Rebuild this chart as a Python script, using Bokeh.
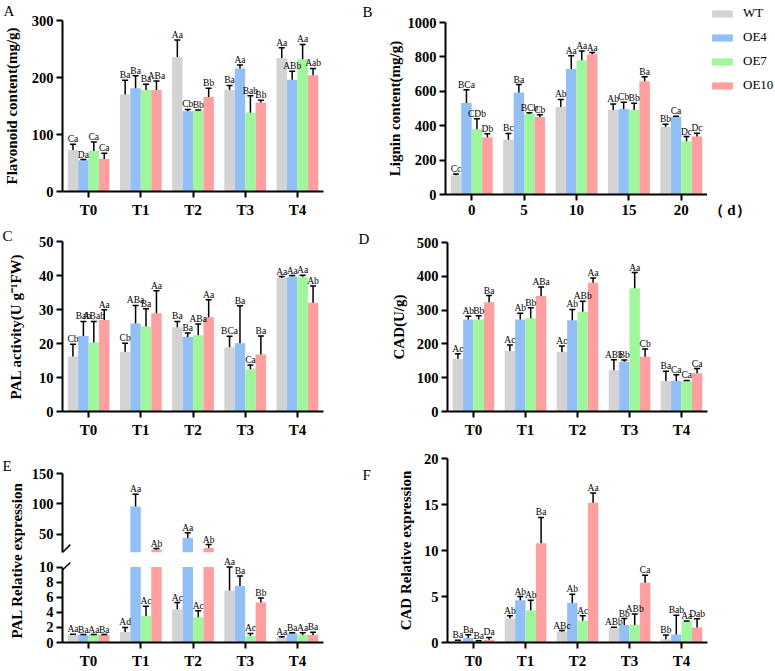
from math import pi
from bokeh.plotting import figure
from bokeh.models import (ColumnDataSource, FactorRange, Range1d, FixedTicker,
                          LabelSet, Label, Legend, LegendItem)
from bokeh.transform import dodge
from bokeh.layouts import row, column
from bokeh.core.properties import value
from bokeh.embed import file_html
from bokeh.resources import INLINE

# ---------------- data ----------------
series = ["WT", "OE4", "OE7", "OE10"]
colors = ["#d3d3d3", "#92c0f6", "#9ff79b", "#ff9f9f"]
stages = ["T0", "T1", "T2", "T3", "T4"]
days = ["0", "5", "10", "15", "20"]

# A  Flavonoid content (mg/g)   rows: WT, OE4, OE7, OE10
flav_mean = [[73, 170, 236, 178, 234], [55, 181, 141, 216, 196],
             [71, 178, 142, 138, 232], [57, 178, 166, 156, 204]]
flav_err = [[10, 25, 30, 8, 18], [1, 22, 3, 6, 15],
            [16, 10, 1, 30, 26], [10, 16, 15, 4, 12]]
flav_sig = [["Ca", "Ba", "Aa", "Ba", "Aa"], ["Da", "Ba", "Cb", "Aa", "ABb"],
            ["Ca", "Ba", "Bb", "Bab", "Aa"], ["Ca", "ABa", "Bb", "Bb", "Aab"]]

# B  Lignin content (mg/g)
lig_mean = [[112, 318, 509, 491, 393], [532, 593, 730, 497, 451],
            [380, 468, 780, 491, 310], [333, 451, 815, 659, 337]]
lig_err = [[7, 37, 44, 35, 15], [77, 46, 77, 40, 4],
           [61, 8, 54, 39, 27], [20, 13, 10, 25, 19]]
lig_sig = [["Cc", "Bc", "Ab", "Ab", "Bb"], ["BCa", "Ba", "Aa", "Cb", "Ca"],
           ["CDb", "BCb", "Aa", "Bb", "Dc"], ["Db", "Cb", "Aa", "Ba", "Dc"]]
day_unit = "（ d）"

# C  PAL activity
pal_mean = [[16.2, 17.6, 24.8, 18.9, 39.3], [22.2, 25.9, 21.9, 20.1, 39.7],
            [20.3, 25.0, 22.4, 12.4, 39.6], [26.9, 28.9, 27.7, 16.8, 32.0]]
pal_err = [[3.6, 2.5, 1.7, 3.2, 0.4], [4.3, 5.3, 1.2, 11.0, 0.3],
           [6.2, 5.2, 3.3, 1.3, 0.5], [3.0, 6.6, 5.2, 5.4, 4.9]]
pal_sig = [["Cb", "Cb", "Ba", "BCa", "Aa"], ["Bab", "ABa", "Ba", "Ba", "Aa"],
           ["ABab", "Ba", "ABa", "Ca", "Aa"], ["Aa", "Aa", "Aa", "Ba", "Ab"]]

# D  CAD activity (U/g)
cad_mean = [[156, 179, 176, 122, 90], [272, 272, 270, 147, 90],
            [272, 276, 295, 365, 90], [323, 342, 381, 162, 113]]
cad_err = [[15, 18, 18, 31, 29], [10, 19, 32, 5, 19],
           [11, 31, 31, 46, 2], [20, 26, 14, 23, 14]]
cad_sig = [["Ac", "Ac", "Ac", "ABb", "Ba"], ["Ab", "Ab", "Ab", "Bb", "Ca"],
           ["Bb", "Bb", "ABb", "Aa", "Ca"], ["Ba", "ABa", "Aa", "Cb", "Ca"]]

# E  PAL relative expression (broken axis: 0-10 and 20-150)
palx_mean = [[1.0, 1.4, 4.4, 6.9, 0.64], [1.0, 95.7, 44.0, 7.5, 1.23],
             [1.0, 3.5, 3.35, 0.85, 1.0], [1.0, 25.0, 27.2, 5.3, 1.0]]
palx_err = [[0.1, 0.6, 0.9, 3.1, 0.12], [0.05, 20.0, 8.7, 1.3, 0.05],
            [0.05, 1.3, 0.85, 0.35, 0.3], [0.05, 1.5, 5.8, 0.6, 0.35]]
palx_sig = [["Aa", "Ad", "Ac", "Aa", "Aa"], ["Ba", "Aa", "Aa", "Ba", "Ba"],
            ["Aa", "Ac", "Ac", "Ac", "Aa"], ["Ba", "Ab", "Ab", "Bb", "Ba"]]
e_low_max = 10
e_up_min = 20

# F  CAD relative expression
cadx_mean = [[0.2, 2.6, 1.2, 1.6, 0.36], [0.5, 4.6, 4.3, 1.9, 0.86],
             [0.15, 3.5, 2.36, 1.9, 2.3], [0.3, 10.8, 15.2, 6.5, 1.64]]
cadx_err = [[0.05, 0.3, 0.1, 0.05, 0.45], [0.35, 0.4, 0.95, 0.7, 2.1],
            [0.05, 1.1, 0.55, 1.2, 0.05], [0.25, 2.8, 1.05, 0.8, 0.95]]
cadx_sig = [["Ba", "Ab", "ABc", "ABb", "Bb"], ["Ba", "Ab", "Ab", "Bb", "Bab"],
            ["Ba", "Ab", "Ac", "ABb", "Aa"], ["Da", "Ba", "Aa", "Ca", "Dab"]]

# ---------------- styling helpers ----------------
FONT = "Liberation Serif"
OFFS = [-0.3, -0.1, 0.1, 0.3]


def no_frame_align(p):
    if "frame_align" in type(p).properties():
        p.frame_align = False


def style_axis(ax):
    ax.axis_line_width = 2
    ax.axis_line_color = "black"
    ax.major_tick_line_width = 2
    ax.major_tick_line_color = "black"
    ax.major_tick_out = 6
    ax.major_tick_in = 0
    ax.minor_tick_line_color = None
    ax.major_label_text_font = FONT
    ax.major_label_text_font_style = "bold"
    ax.major_label_text_color = "black"
    ax.axis_label_text_font = FONT
    ax.axis_label_text_font_style = "bold"
    ax.axis_label_text_font_size = "15px"
    ax.axis_label_text_color = "black"


def base_fig(w, h, cats, yr, ticks, ylabel=None, ml=62, mr=32, mt=20, mb=27,
             als=8, xaxis=True):
    p = figure(width=w, height=h, x_range=FactorRange(factors=cats),
               y_range=Range1d(*yr), output_backend="svg", toolbar_location=None,
               min_border_left=ml, min_border_right=mr, min_border_top=mt,
               min_border_bottom=mb,
               x_axis_location="below" if xaxis else None)
    no_frame_align(p)
    p.x_range.range_padding = 0
    p.outline_line_color = None
    p.grid.visible = False
    for ax in p.axis:
        style_axis(ax)
    p.yaxis.ticker = FixedTicker(ticks=ticks)
    p.yaxis.major_label_text_font_size = "14.5px"
    p.yaxis.major_label_standoff = 3
    if ylabel:
        p.yaxis.axis_label = ylabel
        p.yaxis.axis_label_standoff = als
    if xaxis:
        p.xaxis.major_label_text_font_size = "15px"
        p.xaxis.major_label_standoff = 4
    return p


def draw_bars(p, cats, means, errs, sigs, bar_keep=None, err_keep=None, cap=None):
    rs = []
    for i in range(len(series)):
        idx_b = [k for k in range(len(cats)) if bar_keep is None or bar_keep(means[i][k])]
        tops = [means[i][k] if cap is None else min(means[i][k], cap) for k in idx_b]
        src = ColumnDataSource(dict(x=[cats[k] for k in idx_b], top=tops))
        r = p.vbar(x=dodge("x", OFFS[i], range=p.x_range), top="top", width=0.2,
                   source=src, fill_color=colors[i], line_color=None)
        rs.append(r)
        idx_e = [k for k in range(len(cats)) if err_keep is None or err_keep(means[i][k])]
        esrc = ColumnDataSource(dict(x=[cats[k] for k in idx_e],
                                     top=[means[i][k] for k in idx_e],
                                     upper=[means[i][k] + errs[i][k] for k in idx_e],
                                     t=[sigs[i][k] for k in idx_e]))
        xd = dodge("x", OFFS[i], range=p.x_range)
        p.segment(x0=xd, y0="top", x1=xd, y1="upper", source=esrc,
                  line_color="black", line_width=1.5)
        p.scatter(x=xd, y="upper", marker="dash", size=6, source=esrc,
                  line_color="black", line_width=1.5)
        p.add_layout(LabelSet(x=dodge("x", OFFS[i], range=p.x_range), y="upper",
                              text="t", source=esrc, text_align="center",
                              text_baseline="bottom", text_font=value(FONT),
                              text_font_size=value("9.5px"),
                              text_color="black", y_offset=0))
    return rs


def set_letter(p, txt, offset, valign, standoff):
    t = p.title
    t.text = txt
    t.align = "left"
    t.offset = offset
    t.vertical_align = valign
    t.standoff = standoff
    t.text_font = FONT
    t.text_font_size = "15px"
    t.text_font_style = "normal"
    t.text_color = "black"


def blank_fig(w, h):
    p = figure(width=w, height=h, x_range=Range1d(0, 1), y_range=Range1d(0, 1),
               output_backend="svg", toolbar_location=None, min_border=0,
               x_axis_location=None, y_axis_location=None)
    no_frame_align(p)
    p.outline_line_color = None
    p.grid.visible = False
    return p


# ---------------- A ----------------
pA = base_fig(355, 220, stages, (0, 300), [0, 100, 200, 300],
              "Flavonoid content(mg/g)", ml=62, mr=355 - 323, mt=20, mb=27, als=9)
draw_bars(pA, stages, flav_mean, flav_err, flav_sig)
set_letter(pA, "A", -59, "top", 0)

# ---------------- B ----------------
pB = base_fig(352, 220, days, (0, 1000), [0, 200, 400, 600, 800, 1000],
              "Lignin content(mg/g)", ml=445 - 355, mr=0, mt=22, mb=26, als=2)
draw_bars(pB, days, lig_mean, lig_err, lig_sig)
set_letter(pB, "B", -83, "top", 1)

# legend + unit text panel to the right of B
pLeg = blank_fig(68, 220)
leg_rs = [pLeg.vbar(x=[0.5], top=[0], width=0.01, fill_color=c, line_color=None)
          for c in colors]
legend = Legend(items=[LegendItem(label=s, renderers=[r]) for s, r in zip(series, leg_rs)],
                location=(2, 127), orientation="vertical",
                glyph_width=26, glyph_height=9, label_height=16, spacing=8,
                padding=0, margin=0, border_line_color=None,
                background_fill_alpha=0, label_text_font=FONT,
                label_text_font_size="13px", label_standoff=8,
                label_text_color="black")
pLeg.add_layout(legend)
pLeg.add_layout(Label(x=1, y=3, x_units="screen", y_units="screen", text=day_unit,
                      text_font=FONT, text_font_style="bold", text_font_size="15px",
                      text_color="black"))

# ---------------- C ----------------
pC = base_fig(355, 220, stages, (0, 50), [0, 10, 20, 30, 40, 50],
              "PAL activity(U g⁻¹FW)", ml=62, mr=355 - 323, mt=21, mb=27, als=12)
draw_bars(pC, stages, pal_mean, pal_err, pal_sig)
set_letter(pC, "C", -60, "bottom", -4)

# ---------------- D ----------------
pD = base_fig(420, 220, stages, (0, 500), [0, 100, 200, 300, 400, 500],
              "CAD(U/g)", ml=447 - 355, mr=775 - 707, mt=22, mb=27, als=7)
draw_bars(pD, stages, cad_mean, cad_err, cad_sig)
set_letter(pD, "D", -89, "bottom", -8)

# ---------------- E (broken axis) ----------------
pEl = blank_fig(25, 231)
pEl.add_layout(Label(x=16, y=111, x_units="screen", y_units="screen",
                     text="PAL Relative expression", angle=pi / 2,
                     text_align="center", text_baseline="middle", text_font=FONT,
                     text_font_style="bold", text_font_size="15px",
                     text_color="black"))
pEl.add_layout(Label(x=2, y=198, x_units="screen", y_units="screen", text="E",
                     text_font=FONT, text_font_size="15px", text_color="black"))

pEu = base_fig(350, 114, stages, (e_up_min, 150), [50, 100, 150], None,
               ml=37, mr=375 - 323, mt=33, mb=2, xaxis=False)
draw_bars(pEu, stages, palx_mean, palx_err, palx_sig,
          bar_keep=lambda v: v > e_up_min, err_keep=lambda v: v > e_up_min)
pEu.segment(x0=[0], y0=[e_up_min], x1=[0.15], y1=[e_up_min + 13],
            line_color="black", line_width=1.5)
set_letter(pEu, "F", 300, "bottom", -18)

pEd = base_fig(350, 117, stages, (0, 11.4), [0, 2, 4, 6, 8, 10], None,
               ml=37, mr=375 - 323, mt=2, mb=25)
pEd.yaxis.bounds = (0, e_low_max)
draw_bars(pEd, stages, palx_mean, palx_err, palx_sig, cap=e_low_max,
          err_keep=lambda v: v <= e_low_max)
pEd.segment(x0=[0], y0=[9.6], x1=[0.15], y1=[10.6],
            line_color="black", line_width=1.5)

# ---------------- F ----------------
pF = base_fig(400, 231, stages, (0, 20), [0, 5, 10, 15, 20],
              "CAD Relative expression", ml=447 - 375, mr=775 - 707, mt=18, mb=25, als=7)
draw_bars(pF, stages, cadx_mean, cadx_err, cadx_sig)

root = column(row(pA, pB, pLeg), row(pC, pD), row(pEl, column(pEu, pEd), pF))

open("out.html", "w").write(file_html(root, INLINE))
